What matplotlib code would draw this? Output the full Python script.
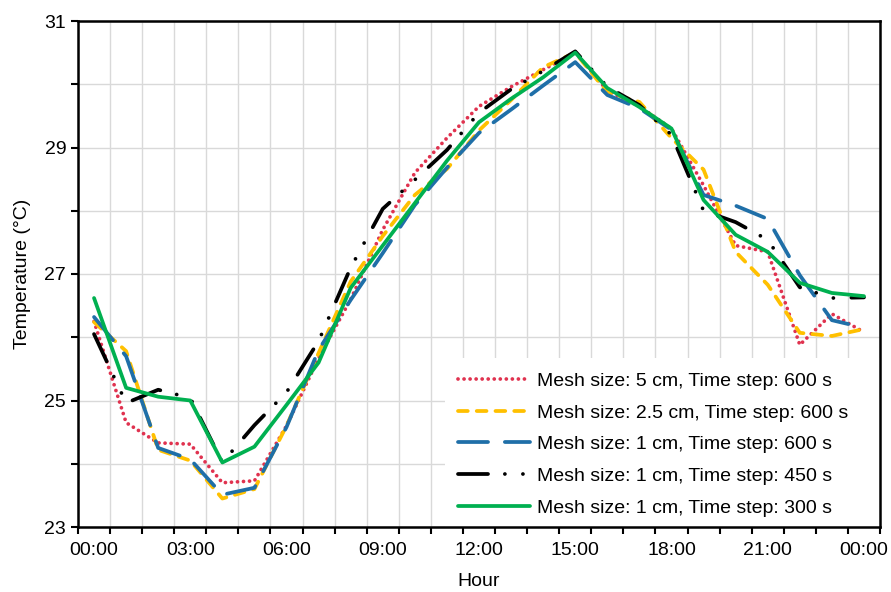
import matplotlib
matplotlib.use("Agg")
import matplotlib.pyplot as plt
from matplotlib.patches import Rectangle
from matplotlib.ticker import FixedLocator, MultipleLocator

plt.rcParams['font.family'] = ['Liberation Sans', 'DejaVu Sans']

# hourly values, 00:00 to 00:00 next day
hours = list(range(25))
tick_labels = ["00:00", "03:00", "06:00", "09:00", "12:00", "15:00", "18:00", "21:00", "00:00"]
y_ticks = [23, 25, 27, 29, 31]

t_5cm_600 = [26.25, 24.65, 24.33, 24.31, 23.70, 23.73, 24.60, 25.67, 26.60, 27.70, 28.60, 29.15,
             29.65, 29.96, 30.23, 30.50, 29.90, 29.65, 29.30, 28.40, 27.45, 27.35, 25.88, 26.37, 26.08]
t_25cm_600 = [26.24, 25.78, 24.22, 24.05, 23.45, 23.60, 24.60, 25.75, 26.88, 27.60, 28.25, 28.66,
              29.27, 29.75, 30.27, 30.50, 29.87, 29.72, 29.15, 28.65, 27.35, 26.83, 26.07, 26.02, 26.13]
t_1cm_600 = [26.32, 25.70, 24.25, 24.07, 23.51, 23.62, 24.58, 25.80, 26.59, 27.33, 28.09, 28.68,
             29.23, 29.60, 29.98, 30.35, 29.83, 29.62, 29.28, 28.25, 28.08, 27.87, 26.98, 26.27, 26.15]
t_1cm_450 = [26.05, 24.96, 25.17, 25.04, 24.02, 24.61, 25.13, 25.94, 27.10, 28.03, 28.49, 28.96,
             29.55, 29.92, 30.21, 30.52, 29.96, 29.67, 29.20, 28.00, 27.82, 27.54, 26.79, 26.62, 26.63]
t_1cm_300 = [26.62, 25.20, 25.06, 25.00, 24.02, 24.27, 24.93, 25.60, 26.78, 27.45, 28.12, 28.79,
             29.40, 29.77, 30.11, 30.50, 29.94, 29.64, 29.30, 28.17, 27.62, 27.35, 26.86, 26.70, 26.65]

fig = plt.figure(figsize=(8.91, 5.92), dpi=100)
ax = fig.add_axes([78 / 891, 1 - 527 / 592, 802 / 891, 506 / 592])

lw = 2.7
ax.plot(hours, t_5cm_600, color="#E0324F", lw=lw, linestyle=(0, (0.01, 1.6)),
        dash_capstyle="round", label="Mesh size: 5 cm, Time step: 600 s")
ax.plot(hours, t_25cm_600, color="#FFC000", lw=lw, linestyle=(0, (2.6, 2.4)),
        dash_capstyle="round", label="Mesh size: 2.5 cm, Time step: 600 s")
ax.plot(hours, t_1cm_600, color="#1F6FA8", lw=lw, linestyle=(0, (8, 4.5)),
        dash_capstyle="round", label="Mesh size: 1 cm, Time step: 600 s")
ax.plot(hours, t_1cm_450, color="black", lw=lw, linestyle=(0, (8, 4.5, 0.01, 4.8, 0.01, 4.8)),
        dash_capstyle="round", label="Mesh size: 1 cm, Time step: 450 s")
ax.plot(hours, t_1cm_300, color="#00B050", lw=lw, solid_capstyle="round",
        label="Mesh size: 1 cm, Time step: 300 s")

# axes styling
ax.set_xlim(-0.5, 24.5)
ax.set_ylim(23, 31)
ax.xaxis.set_major_locator(FixedLocator([0, 3, 6, 9, 12, 15, 18, 21, 24]))
ax.set_xticklabels(tick_labels)
ax.xaxis.set_minor_locator(FixedLocator([h - 0.5 for h in range(26)]))
ax.tick_params(axis="x", which="major", length=0, labelsize=14, pad=11)
ax.tick_params(axis="x", which="minor", length=5, width=1.5, direction="out")
ax.yaxis.set_major_locator(FixedLocator(y_ticks))
ax.yaxis.set_minor_locator(MultipleLocator(1))
ax.tick_params(axis="y", which="both", length=5, width=1.5, direction="out", labelsize=14)
ax.grid(True, which="minor", axis="x", color="#D9D9D9", lw=1)
ax.grid(True, which="both", axis="y", color="#D9D9D9", lw=1)
ax.set_axisbelow(True)
for s in ax.spines.values():
    s.set_linewidth(1.8)

ax.set_xlabel("Hour", fontsize=14, labelpad=10)
ax.set_ylabel("Temperature (°C)", fontsize=14, labelpad=10)

# white area behind the legend (hides the gridlines)
ax.add_patch(Rectangle((0.4576, 0), 1 - 0.4576, 0.334, transform=ax.transAxes,
                       facecolor="white", edgecolor="none", zorder=1))

ax.legend(loc="lower right", bbox_to_anchor=(0.960, 0.0207), borderaxespad=0,
          fontsize=14, handlelength=3.7, handletextpad=0.35, labelspacing=0.72,
          frameon=False, borderpad=0)

fig.savefig("out.png", dpi=100)
